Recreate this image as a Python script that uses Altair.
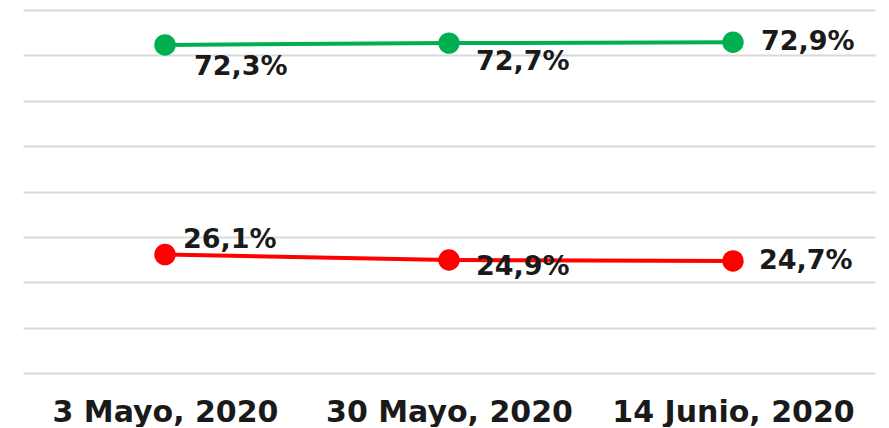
import altair as alt
import pandas as pd

dates = ["3 Mayo, 2020", "30 Mayo, 2020", "14 Junio, 2020"]
green_values = [72.3, 72.7, 72.9]
red_values = [26.1, 24.9, 24.7]
green_labels = ["72,3%", "72,7%", "72,9%"]
red_labels = ["26,1%", "24,9%", "24,7%"]
grid_values = [0, 10, 20, 30, 40, 50, 60, 70, 80]

rows = []
for i, d in enumerate(dates):
    rows.append({"fecha": d, "serie": "verde", "valor": green_values[i], "etiqueta": green_labels[i], "idx": i})
    rows.append({"fecha": d, "serie": "rojo", "valor": red_values[i], "etiqueta": red_labels[i], "idx": i})
df = pd.DataFrame(rows)

x_enc = alt.X("fecha:N", sort=dates,
              scale=alt.Scale(type="point", padding=0.5),
              axis=alt.Axis(title=None, labelAngle=0, ticks=False, domain=False, grid=False,
                            labelFont="DejaVu Sans", labelFontWeight="bold", labelFontSize=30,
                            labelColor="#1a1a1a", labelPadding=24, labelBaseline="top",
                            labelLimit=0))
y_enc = alt.Y("valor:Q", scale=alt.Scale(domain=[0, 80], nice=False, zero=True),
              axis=alt.Axis(title=None, labels=False, ticks=False, domain=False, values=grid_values,
                            grid=True, gridColor="#d9d9d9", gridWidth=2))
color_enc = alt.Color("serie:N", scale=alt.Scale(domain=["verde", "rojo"], range=["#00B050", "#FF0000"]),
                      legend=None)

base = alt.Chart(df)

lines = base.mark_line(strokeWidth=4).encode(x=x_enc, y=y_enc, color=color_enc, detail="serie:N")
points = base.mark_circle(size=460, opacity=1).encode(x=x_enc, y=y_enc, color=color_enc)

def label_layer(filter_expr, dx, dy):
    return base.transform_filter(filter_expr).mark_text(
        align="left", baseline="middle", dx=dx, dy=dy,
        font="DejaVu Sans", fontWeight="bold", fontSize=27, color="#1a1a1a"
    ).encode(x=alt.X("fecha:N", sort=dates), y="valor:Q", text="etiqueta:N")

lab_g0 = label_layer("datum.serie == 'verde' && datum.idx == 0", 29, 22)
lab_g1 = label_layer("datum.serie == 'verde' && datum.idx == 1", 27, 19)
lab_g2 = label_layer("datum.serie == 'verde' && datum.idx == 2", 28, 0)
lab_r0 = label_layer("datum.serie == 'rojo' && datum.idx == 0", 18, -15)
lab_r1 = label_layer("datum.serie == 'rojo' && datum.idx == 1", 27, 7)
lab_r2 = label_layer("datum.serie == 'rojo' && datum.idx == 2", 26, 0)

chart = alt.layer(lines, points, lab_g0, lab_g1, lab_g2, lab_r0, lab_r1, lab_r2).properties(
    width=852, height=363,
    autosize=alt.AutoSizeParams(type="none"),
    padding={"left": 15, "top": 2, "right": 6, "bottom": 54},
    background="white",
).configure_view(stroke=None)

chart.save("out.html", embed_options={"renderer": "svg", "actions": False})
